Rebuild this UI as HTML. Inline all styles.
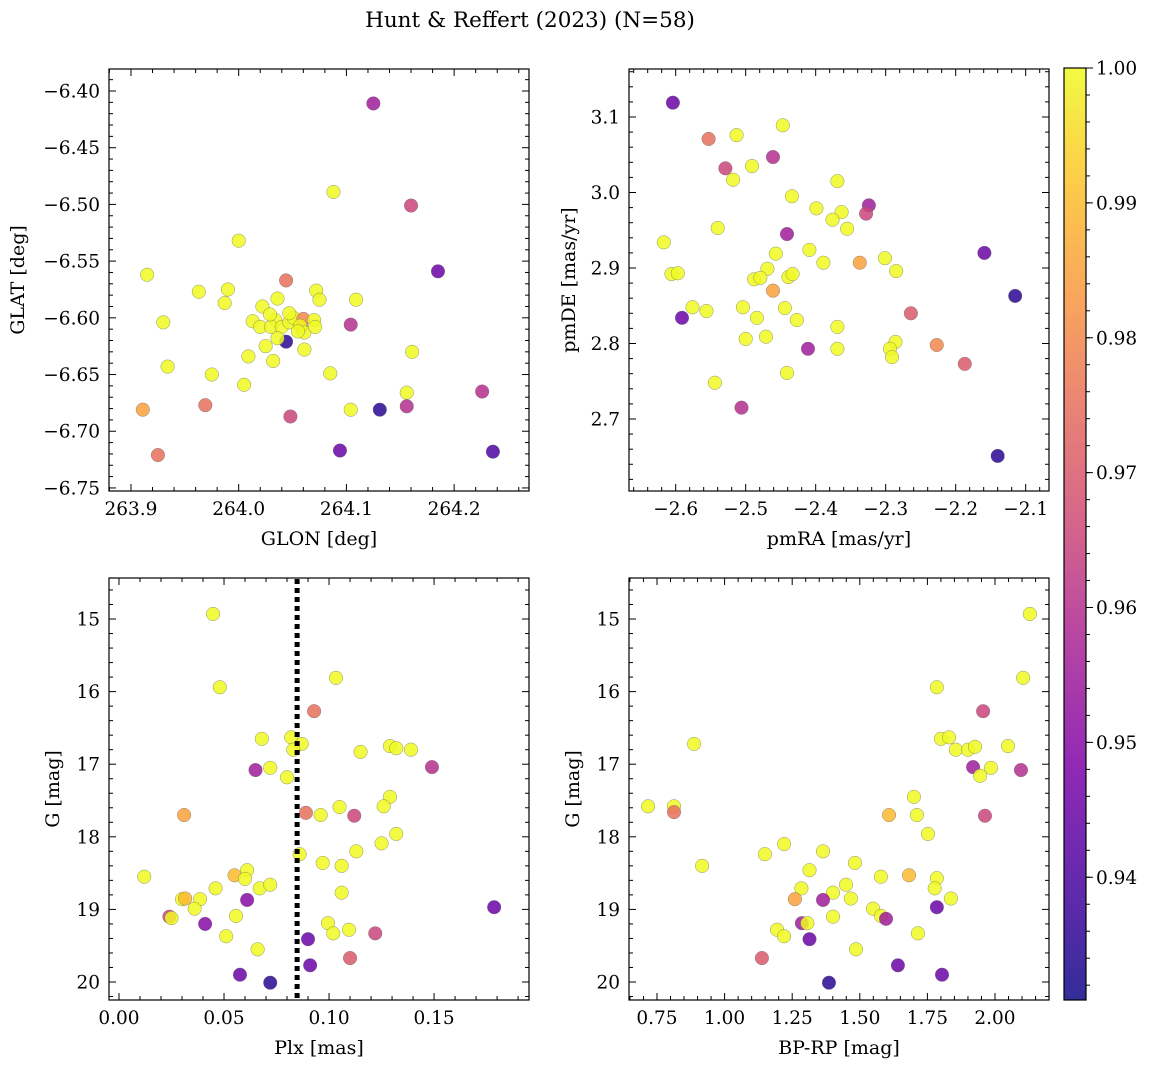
<!DOCTYPE html>
<html><head><meta charset="utf-8">
<style>
html,body{margin:0;padding:0;background:#fff;}
svg{display:block;font-family:"DejaVu Serif","Liberation Serif",serif;}
</style></head>
<body>
<svg id="fig" width="1149" height="1068" viewBox="0 0 1149 1068" xmlns="http://www.w3.org/2000/svg">
<text x="530" y="27" font-size="21.5" text-anchor="middle">Hunt &amp; Reffert (2023) (N=58)</text>
</svg>
<script>
// ---- Panel 1: GLON / GLAT ----
const glon=[264.125,264.088,264.160,264.000,263.915,264.185,264.044,263.963,263.990,263.987,264.072,264.075,264.109,264.022,264.036,263.930,264.013,264.020,264.034,264.030,264.040,264.047,264.051,264.058,264.060,264.070,264.057,264.104,264.044,264.036,264.025,264.061,264.061,264.009,264.032,263.934,263.975,264.085,264.161,264.005,264.156,263.911,263.969,264.048,264.104,264.131,264.156,264.226,263.925,264.094,264.236,264.047,264.055,264.029,264.071];
const glat=[-6.411,-6.489,-6.501,-6.532,-6.562,-6.559,-6.567,-6.577,-6.575,-6.587,-6.576,-6.584,-6.584,-6.590,-6.583,-6.604,-6.603,-6.608,-6.602,-6.608,-6.608,-6.604,-6.600,-6.608,-6.601,-6.602,-6.607,-6.606,-6.621,-6.618,-6.625,-6.613,-6.628,-6.634,-6.638,-6.643,-6.650,-6.649,-6.630,-6.659,-6.666,-6.681,-6.677,-6.687,-6.681,-6.681,-6.678,-6.665,-6.721,-6.717,-6.718,-6.596,-6.612,-6.597,-6.608];
const prob1=[0.955,1,0.965,1,1,0.945,0.975,1,1,1,1,1,1,1,1,1,1,1,1,1,1,1,1,0.985,0.98,1,1,0.96,0.935,1,1,1,1,1,1,1,1,1,1,1,1,0.985,0.975,0.965,1,0.935,0.96,0.96,0.975,0.945,0.94,1,1,1,1];
// ---- Panel 2: pmRA / pmDE ----
const pmra=[-2.604,-2.553,-2.513,-2.447,-2.529,-2.491,-2.518,-2.461,-2.369,-2.434,-2.399,-2.324,-2.328,-2.363,-2.376,-2.355,-2.540,-2.617,-2.441,-2.457,-2.409,-2.606,-2.597,-2.469,-2.389,-2.337,-2.301,-2.285,-2.159,-2.439,-2.433,-2.488,-2.479,-2.461,-2.115,-2.576,-2.504,-2.444,-2.556,-2.591,-2.484,-2.427,-2.264,-2.369,-2.500,-2.471,-2.286,-2.227,-2.411,-2.369,-2.294,-2.291,-2.187,-2.544,-2.441,-2.506,-2.140];
const pmde=[3.119,3.071,3.076,3.089,3.032,3.035,3.017,3.047,3.015,2.995,2.979,2.983,2.972,2.974,2.964,2.952,2.953,2.934,2.945,2.919,2.924,2.892,2.893,2.899,2.907,2.907,2.913,2.896,2.920,2.888,2.892,2.885,2.887,2.870,2.863,2.848,2.848,2.847,2.843,2.834,2.834,2.831,2.840,2.822,2.806,2.809,2.802,2.798,2.793,2.793,2.793,2.782,2.773,2.748,2.761,2.715,2.651];
const prob2=[0.945,0.975,1,1,0.965,1,1,0.96,1,1,1,0.955,0.965,1,1,1,1,1,0.955,1,1,1,1,1,1,0.985,1,1,0.945,1,1,1,1,0.985,0.935,1,1,1,1,0.945,1,1,0.97,1,1,1,1,0.98,0.955,1,1,1,0.97,1,1,0.96,0.935];
// ---- Panel 3: Plx / G ----
const plx=[0.0448,0.048,0.1033,0.0929,0.068,0.082,0.087,0.083,0.115,0.129,0.132,0.139,0.065,0.072,0.080,0.149,0.129,0.031,0.089,0.105,0.096,0.112,0.126,0.132,0.125,0.113,0.086,0.097,0.106,0.061,0.012,0.055,0.060,0.067,0.072,0.046,0.030,0.0315,0.0386,0.106,0.061,0.036,0.1786,0.0557,0.024,0.025,0.041,0.0995,0.1095,0.102,0.122,0.051,0.090,0.066,0.0576,0.110,0.091,0.072];
const gmag3=[14.93,15.94,15.81,16.27,16.65,16.63,16.72,16.80,16.83,16.75,16.78,16.80,17.08,17.05,17.18,17.04,17.45,17.70,17.67,17.59,17.70,17.71,17.58,17.96,18.09,18.20,18.24,18.36,18.40,18.46,18.55,18.53,18.58,18.71,18.66,18.71,18.86,18.85,18.86,18.77,18.87,18.99,18.97,19.09,19.10,19.12,19.20,19.19,19.28,19.33,19.33,19.37,19.41,19.55,19.90,19.67,19.77,20.01];
const prob3=[1,1,1,0.975,1,1,1,1,1,1,1,1,0.955,1,1,0.96,1,0.985,0.975,1,1,0.965,1,1,1,1,1,1,1,1,1,0.99,1,1,1,1,1,0.99,1,1,0.95,1,0.945,1,0.965,1,0.95,1,1,1,0.965,1,0.945,1,0.945,0.97,0.945,0.935];
const plxCut=0.0848;
// ---- Panel 4: BP-RP / G ----
const bprp=[2.129,1.785,2.104,1.956,0.887,1.800,1.830,1.855,1.900,1.926,2.048,1.985,1.919,2.096,1.945,1.700,0.717,0.813,0.813,0.917,1.711,1.608,1.963,1.752,1.220,1.149,1.364,1.482,1.314,1.578,1.785,1.682,1.449,1.284,1.401,1.777,1.260,1.364,1.467,1.837,1.785,1.549,1.578,1.597,1.401,1.286,1.306,1.194,1.220,1.715,1.314,1.486,1.138,1.641,1.804,1.386];
const gmag4=[14.93,15.94,15.81,16.27,16.72,16.65,16.63,16.80,16.80,16.76,16.75,17.05,17.04,17.08,17.16,17.45,17.58,17.58,17.66,18.40,17.70,17.70,17.71,17.96,18.10,18.24,18.20,18.36,18.46,18.55,18.57,18.53,18.66,18.71,18.77,18.71,18.86,18.87,18.85,18.85,18.97,18.99,19.09,19.13,19.10,19.19,19.19,19.28,19.37,19.33,19.41,19.55,19.67,19.77,19.90,20.01];
const prob4=[1,1,1,0.965,1,1,1,1,1,1,1,1,0.955,0.96,1,1,1,1,0.975,1,1,0.99,0.965,1,1,1,1,1,1,1,1,0.99,1,1,1,1,0.985,0.955,1,1,0.945,1,1,0.955,1,0.955,1,1,1,1,0.945,1,0.97,0.945,0.945,0.935];
// ---- Colorbar ticks ----
const cbTicks=[0.94,0.95,0.96,0.97,0.98,0.99,1.00];
const cMin=0.9309,cMax=1.0;

const NS="http://www.w3.org/2000/svg";
const svg=document.getElementById('fig');
const TF=18.5, LF=19;
function mk(tag,attrs,parent){const e=document.createElementNS(NS,tag);for(const k in attrs)e.setAttribute(k,attrs[k]);(parent||svg).appendChild(e);return e;}
const stops=[[0,[13,8,135]],[0.13,[75,3,161]],[0.25,[125,3,168]],[0.38,[168,34,150]],[0.5,[203,70,121]],[0.63,[229,107,93]],[0.75,[248,148,65]],[0.88,[253,195,40]],[1,[240,249,33]]];
function plasma(t){t=Math.max(0,Math.min(1,t));for(let i=1;i<stops.length;i++){if(t<=stops[i][0]){const a=stops[i-1],b=stops[i],f=(t-a[0])/(b[0]-a[0]);const c=a[1].map((v,j)=>Math.round(v+(b[1][j]-v)*f));return `rgb(${c[0]},${c[1]},${c[2]})`;}}return 'rgb(240,249,33)';}
function col(p){return plasma((p-cMin)/(cMax-cMin));}
function fmt(v,d){const s=Math.abs(v).toFixed(d);return (v<-1e-9?'\u2212':'')+s;}

function panel(name,box,xr,yr,xMaj,xMin,xd,yMaj,yMin,yd,xlab,ylab,ylabX,xs,ys,ps){
  const [L,T,R,B]=box;
  const sx=v=>L+(v-xr[0])/(xr[1]-xr[0])*(R-L);
  const sy=v=>T+(v-yr[0])/(yr[1]-yr[0])*(B-T);
  const g=mk('g',{});
  
  
  const clip=mk('clipPath',{id:'clip-'+name},g);mk('rect',{x:L,y:T,width:R-L,height:B-T},clip);
  const pts=mk('g',{'clip-path':'url(#clip-'+name+')'},g);
  for(let i=0;i<xs.length;i++){
    const c=mk('circle',{cx:sx(xs[i]),cy:sy(ys[i]),r:6.8,fill:col(ps[i]),'fill-opacity':0.85,stroke:'#666','stroke-width':0.5,'stroke-opacity':0.7},pts);
    
    
  }
  const lo=Math.min(xr[0],xr[1]),hi=Math.max(xr[0],xr[1]);
  const n0=Math.ceil(lo/xMin-1e-6),n1=Math.floor(hi/xMin+1e-6);
  for(let n=n0;n<=n1;n++){
    const v=n*xMin;const x=sx(v);const r=v/xMaj;const maj=Math.abs(r-Math.round(r))<1e-4;const len=maj?7:4;
    mk('line',{x1:x,y1:B,x2:x,y2:B-len,stroke:'#000','stroke-width':1},g);
    mk('line',{x1:x,y1:T,x2:x,y2:T+len,stroke:'#000','stroke-width':1},g);
    if(maj){const t=mk('text',{x:x,y:B+24,'font-size':TF,'text-anchor':'middle'},g);t.textContent=fmt(Math.round(r)*xMaj,xd);
      }
  }
  const ylo=Math.min(yr[0],yr[1]),yhi=Math.max(yr[0],yr[1]);
  const m0=Math.ceil(ylo/yMin-1e-6),m1=Math.floor(yhi/yMin+1e-6);
  for(let n=m0;n<=m1;n++){
    const v=n*yMin;const y=sy(v);const r=v/yMaj;const maj=Math.abs(r-Math.round(r))<1e-4;const len=maj?7:4;
    mk('line',{x1:L,y1:y,x2:L+len,y2:y,stroke:'#000','stroke-width':1},g);
    mk('line',{x1:R,y1:y,x2:R-len,y2:y,stroke:'#000','stroke-width':1},g);
    if(maj){const t=mk('text',{x:L-9,y:y+6.5,'font-size':TF,'text-anchor':'end'},g);t.textContent=fmt(Math.round(r)*yMaj,yd);
      }
  }
  mk('rect',{x:L,y:T,width:R-L,height:B-T,fill:'none',stroke:'#000','stroke-width':1.2},g);
  const xl=mk('text',{x:(L+R)/2,y:B+54,'font-size':LF,'text-anchor':'middle'},g);xl.textContent=xlab;
  
  const yl=mk('text',{x:ylabX,y:(T+B)/2,'font-size':LF,'text-anchor':'middle',transform:`rotate(-90 ${ylabX} ${(T+B)/2})`},g);yl.textContent=ylab;
  
  return {sx,sy};
}

panel('glon-glat',[109,69,529,491],[263.8796,264.2695],[-6.3806,-6.7527],0.1,0.02,1,0.05,0.01,2,'GLON [deg]','GLAT [deg]',24,glon,glat,prob1);
panel('pm',[629,69,1049,491],[-2.6667,-2.0667],[3.1636,2.6046],0.1,0.02,1,0.1,0.02,1,'pmRA [mas/yr]','pmDE [mas/yr]',575,pmra,pmde,prob2);
const p3=panel('plx-g',[109,578,529,1000],[-0.00476,0.1952],[14.435,20.248],0.05,0.01,2,1,0.2,0,'Plx [mas]','G [mag]',59,plx,gmag3,prob3);
panel('color-g',[629,578,1049,1000],[0.6465,2.1997],[14.435,20.248],0.25,0.05,2,1,0.2,0,'BP-RP [mag]','G [mag]',579,bprp,gmag4,prob4);

const cut=mk('line',{x1:p3.sx(plxCut),y1:579,x2:p3.sx(plxCut),y2:999,stroke:'#000','stroke-width':5,'stroke-dasharray':'5,4'});



// colorbar
const cb=mk('g',{});


const CL=1064,CR=1086,CT=68,CB=1000;
const grad=mk('linearGradient',{id:'cbg',x1:0,y1:1,x2:0,y2:0},cb);
for(let i=0;i<=20;i++)mk('stop',{offset:i/20,'stop-color':plasma(i/20),'stop-opacity':0.85},grad);
mk('rect',{x:CL,y:CT,width:CR-CL,height:CB-CT,fill:'url(#cbg)',stroke:'#000','stroke-width':1.2},cb);
const cy=v=>CB-(v-cMin)/(cMax-cMin)*(CB-CT);
for(let n=466;n<=500;n++){const v=n*0.002;mk('line',{x1:CR,y1:cy(v),x2:CR+4,y2:cy(v),stroke:'#000','stroke-width':1},cb);}
cbTicks.forEach(v=>{mk('line',{x1:CR,y1:cy(v),x2:CR+7,y2:cy(v),stroke:'#000','stroke-width':1},cb);
  const t=mk('text',{x:CR+10,y:cy(v)+6.5,'font-size':TF},cb);t.textContent=v.toFixed(2);
  });
</script>
</body></html>
